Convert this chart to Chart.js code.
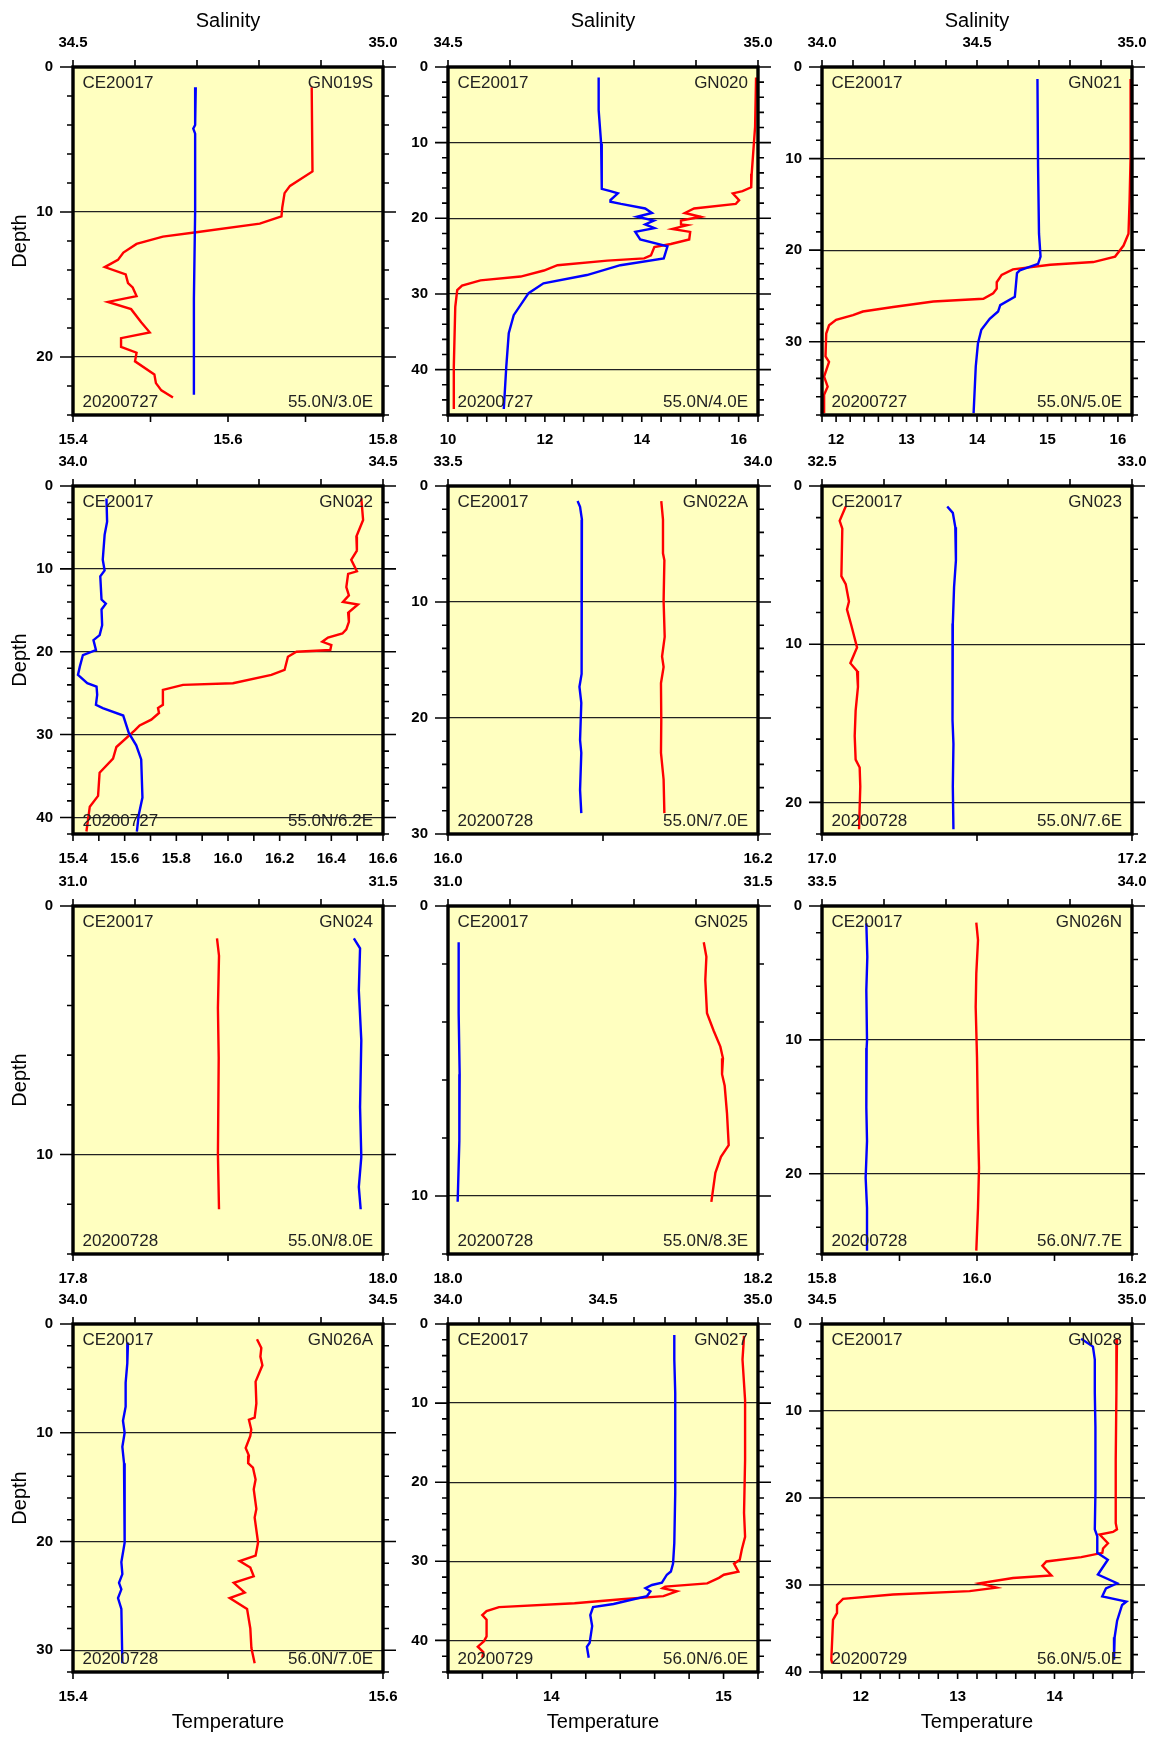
<!DOCTYPE html>
<html>
<head>
<meta charset="utf-8">
<script src="https://cdn.jsdelivr.net/npm/chart.js@4.4.1/dist/chart.umd.min.js"></script>
<style>
  body { margin: 0; background: #fff; }
  #wrap { position: relative; width: 1154px; height: 1738px; }
  #wrap canvas { position: absolute; }
</style>
</head>
<body>
<div id="wrap"></div>
<script>
// station info
const cruise = 'CE20017';
const stations = ['GN019S', 'GN020', 'GN021', 'GN022', 'GN022A', 'GN023',
                  'GN024', 'GN025', 'GN026N', 'GN026A', 'GN027', 'GN028'];
const dates = ['20200727', '20200727', '20200727', '20200727', '20200728', '20200728',
               '20200728', '20200728', '20200728', '20200728', '20200729', '20200729'];
const positions = ['55.0N/3.0E', '55.0N/4.0E', '55.0N/5.0E', '55.0N/6.2E', '55.0N/7.0E', '55.0N/7.6E',
                   '55.0N/8.0E', '55.0N/8.3E', '56.0N/7.7E', '56.0N/7.0E', '56.0N/6.0E', '56.0N/5.0E'];

// axis ranges / tick labels
const tempMin = [15.4, 10, 11.8, 15.4, 16.0, 17.0, 17.8, 18.0, 15.8, 15.4, 13.4, 11.6];
const tempMax = [15.8, 16.4, 16.2, 16.6, 16.2, 17.2, 18.0, 18.2, 16.2, 15.6, 15.2, 14.8];
const tempTick = [0.1, 0.4, 0.2, 0.1, 0.1, 0.1, 0.1, 0.1, 0.1, 0.1, 0.2, 0.2];
const tempLabel = [0.2, 2, 1, 0.2, 0.2, 0.2, 0.2, 0.2, 0.2, 0.2, 1, 1];
const salMin = [34.5, 34.5, 34.0, 34.0, 33.5, 32.5, 31.0, 31.0, 33.5, 34.0, 34.0, 34.5];
const salMax = [35.0, 35.0, 35.0, 34.5, 34.0, 33.0, 31.5, 31.5, 34.0, 34.5, 35.0, 35.0];
const depthMax = [24, 46, 38, 42, 30, 22, 14, 12, 26, 32, 44, 40];

// GN019S
const gn019sTD = [1.4, 7.2, 8.2, 8.7, 9.7, 10.3, 10.8, 11.4, 11.7, 12.2, 12.8, 13.3, 13.8, 14.3, 14.9, 15.2, 15.8, 16.2, 16.7, 17.6, 18.3, 18.7, 19.3, 19.7, 20.3, 21.2, 21.8, 22.3, 22.8];
const gn019sT = [15.708, 15.709, 15.680, 15.673, 15.670, 15.669, 15.641, 15.559, 15.516, 15.482, 15.465, 15.458, 15.441, 15.468, 15.471, 15.477, 15.482, 15.445, 15.475, 15.488, 15.499, 15.462, 15.462, 15.482, 15.480, 15.505, 15.507, 15.514, 15.529];
const gn019sSD = [1.4, 4.0, 4.25, 4.6, 10, 16, 22.6];
const gn019sS = [34.698, 34.697, 34.694, 34.697, 34.697, 34.695, 34.695];

// GN020
const gn020TD = [1.4, 7.9, 14.1, 15.9, 16.4, 16.7, 17.6, 18.1, 18.7, 19.3, 19.8, 20.3, 20.8, 20.9, 21.4, 21.8, 22.8, 23.4, 23.8, 24.9, 25.3, 25.6, 26.2, 26.9, 27.7, 28.2, 28.9, 29.5, 31.7, 39.6, 45.2];
const gn020T = [16.36, 16.34, 16.27, 16.26, 16.08, 15.88, 16.01, 15.94, 15.08, 14.89, 15.22, 14.81, 14.81, 14.94, 14.63, 15.00, 14.98, 14.60, 14.26, 14.19, 14.05, 13.29, 12.26, 11.98, 11.50, 10.67, 10.29, 10.19, 10.15, 10.12, 10.12];
const gn020SD = [1.4, 5.7, 10.1, 14.5, 16.1, 16.4, 16.7, 17.6, 17.8, 18.1, 18.7, 19.3, 19.8, 20.3, 20.8, 21.3, 21.8, 22.8, 23.7, 25.3, 26.2, 27.5, 28.6, 29.9, 32.8, 35.2, 39.6, 45.2];
const gn020S = [34.743, 34.743, 34.747, 34.748, 34.748, 34.762, 34.774, 34.762, 34.762, 34.779, 34.818, 34.829, 34.805, 34.832, 34.818, 34.833, 34.802, 34.810, 34.854, 34.848, 34.778, 34.724, 34.654, 34.630, 34.606, 34.598, 34.594, 34.590];

// GN021
const gn021TD = [1.3, 7.3, 9.8, 14.5, 18.2, 19.5, 20.7, 21.3, 21.6, 22.1, 22.7, 23.5, 24.2, 24.7, 25.3, 25.6, 26.2, 26.7, 27.1, 27.6, 28.2, 29.1, 31.6, 32.2, 33.8, 34.9, 35.8, 37.8];
const gn021T = [16.185, 16.175, 16.185, 16.166, 16.150, 16.080, 15.960, 15.650, 15.040, 14.510, 14.350, 14.280, 14.280, 14.230, 14.090, 13.380, 12.810, 12.380, 12.240, 12.000, 11.900, 11.860, 11.850, 11.900, 11.830, 11.880, 11.830, 11.830];
const gn021SD = [1.3, 10.9, 18.2, 20.7, 21.5, 22.2, 22.5, 24.0, 25.1, 26.0, 26.7, 27.5, 28.7, 30.2, 32.7, 37.8];
const gn021S = [34.695, 34.697, 34.700, 34.705, 34.697, 34.638, 34.629, 34.625, 34.622, 34.575, 34.568, 34.541, 34.514, 34.503, 34.496, 34.489];

// GN022
const gn022TD = [1.5, 4.1, 6.1, 7.8, 8.9, 10.3, 10.6, 12.2, 13.2, 14.0, 14.3, 15.3, 16.4, 17.3, 17.8, 18.3, 18.8, 19.2, 19.8, 20.0, 20.6, 22.2, 22.8, 23.8, 24.0, 24.6, 26.4, 26.8, 27.4, 28.2, 28.9, 29.5, 31.5, 32.9, 34.6, 37.4, 38.7, 40.3, 41.7];
const gn022T = [16.516, 16.523, 16.497, 16.499, 16.477, 16.499, 16.465, 16.458, 16.468, 16.445, 16.503, 16.465, 16.468, 16.458, 16.443, 16.387, 16.365, 16.400, 16.396, 16.265, 16.232, 16.219, 16.168, 16.019, 15.826, 15.748, 15.748, 15.729, 15.733, 15.703, 15.658, 15.639, 15.568, 15.555, 15.503, 15.497, 15.465, 15.458, 15.452];
const gn022SD = [1.5, 4.3, 5.9, 8.9, 10.2, 10.9, 13.7, 14.2, 14.9, 16.8, 18.0, 18.6, 19.8, 20.4, 21.8, 22.8, 23.8, 24.2, 25.2, 26.4, 26.8, 27.7, 29.8, 31.3, 33.0, 37.6, 39.7, 41.7];
const gn022S = [34.054, 34.055, 34.051, 34.048, 34.051, 34.044, 34.046, 34.053, 34.046, 34.047, 34.043, 34.033, 34.037, 34.016, 34.011, 34.008, 34.023, 34.038, 34.039, 34.037, 34.048, 34.081, 34.090, 34.102, 34.110, 34.112, 34.106, 34.103];

// GN022A
const gn022aTD = [1.3, 2.9, 5.8, 6.4, 9.9, 13.0, 14.7, 15.6, 17.0, 20.2, 23.0, 25.3, 28.2];
const gn022aT = [16.1376, 16.1387, 16.1387, 16.1396, 16.1391, 16.1398, 16.1381, 16.1391, 16.1374, 16.1376, 16.1374, 16.1391, 16.1396];
const gn022aSD = [1.3, 1.8, 2.9, 5.8, 10.4, 13.9, 16.2, 17.3, 18.7, 21.9, 23.0, 26.2, 28.2];
const gn022aS = [33.709, 33.713, 33.716, 33.715, 33.716, 33.715, 33.716, 33.712, 33.715, 33.713, 33.715, 33.713, 33.715];

// GN023
const gn023TD = [1.3, 2.2, 2.7, 5.7, 6.2, 7.3, 7.8, 8.8, 10.2, 11.2, 11.7, 12.7, 14.2, 15.8, 17.3, 17.8, 19.0, 21.7];
const gn023T = [17.0153, 17.0114, 17.0131, 17.0125, 17.0153, 17.0174, 17.0161, 17.0189, 17.0226, 17.0183, 17.0226, 17.0232, 17.0217, 17.0211, 17.0217, 17.0243, 17.0247, 17.0239];
const gn023SD = [1.3, 1.7, 2.6, 4.7, 6.4, 8.7, 12.7, 14.8, 16.3, 19.0, 21.7];
const gn023S = [32.702, 32.711, 32.715, 32.716, 32.713, 32.711, 32.711, 32.710, 32.712, 32.711, 32.712];

// GN024
const gn024TD = [1.3, 2.0, 4.1, 6.1, 10.0, 12.2];
const gn024T = [17.8929, 17.8942, 17.8935, 17.8940, 17.8935, 17.8942];
const gn024SD = [1.3, 1.7, 3.4, 5.4, 8.1, 10.1, 11.3, 12.2];
const gn024S = [31.453, 31.463, 31.461, 31.465, 31.463, 31.465, 31.461, 31.464];

// GN025
const gn025TD = [1.25, 1.75, 2.55, 3.7, 4.3, 4.85, 5.25, 5.8, 6.2, 7.15, 8.25, 8.65, 9.2, 10.2];
const gn025T = [18.1650, 18.1667, 18.1660, 18.1671, 18.1714, 18.1757, 18.1774, 18.1768, 18.1785, 18.1800, 18.1811, 18.1761, 18.1725, 18.1699];
const gn025SD = [1.25, 3.7, 5.8, 8.1, 10.2];
const gn025S = [31.0172, 31.0172, 31.0188, 31.0183, 31.0156];

// GN026N
const gn026nTD = [1.25, 2.55, 5.05, 7.55, 11.3, 16.3, 19.55, 22.55, 25.75];
const gn026nT = [15.9991, 16.0013, 15.9991, 15.9983, 16.0000, 16.0013, 16.0026, 16.0013, 15.9991];
const gn026nSD = [1.3, 3.8, 6.3, 10.05, 10.6, 15.05, 17.55, 20.3, 22.55, 25.75];
const gn026nS = [33.5715, 33.5731, 33.5715, 33.5726, 33.5720, 33.5715, 33.5726, 33.5704, 33.5726, 33.5726];

// GN026A
const gn026aTD = [1.4, 2.2, 3.0, 3.8, 5.3, 7.3, 8.6, 8.8, 9.7, 10.3, 11.4, 12.1, 12.8, 13.2, 14.3, 15.2, 17.0, 17.8, 20.1, 21.3, 21.8, 22.4, 23.2, 23.8, 24.7, 25.2, 26.2, 28.0, 29.8, 31.2];
const gn026aT = [15.5187, 15.5215, 15.5209, 15.5222, 15.5178, 15.5183, 15.5172, 15.5135, 15.5150, 15.5144, 15.5114, 15.5135, 15.5130, 15.5161, 15.5178, 15.5166, 15.5183, 15.5172, 15.5194, 15.5178, 15.5075, 15.5144, 15.5166, 15.5037, 15.5108, 15.5011, 15.5123, 15.5144, 15.5151, 15.5172];
const gn026aSD = [1.7, 3.6, 5.4, 7.6, 8.9, 10.0, 11.3, 12.8, 20.1, 21.9, 23.0, 23.8, 24.4, 25.2, 26.2, 31.2];
const gn026aS = [34.0887, 34.0876, 34.0849, 34.0849, 34.0806, 34.0833, 34.0796, 34.0823, 34.0833, 34.0780, 34.0796, 34.0742, 34.0780, 34.0726, 34.0780, 34.0796];

// GN027
const gn027TD = [1.5, 4.5, 9.6, 17.2, 23.9, 26.9, 28.5, 29.8, 30.3, 31.3, 31.7, 32.1, 32.8, 33.2, 33.4, 33.8, 34.4, 34.8, 35.3, 35.8, 36.3, 36.8, 37.4, 39.5, 40.1, 40.8, 41.5, 42.2];
const gn027T = [15.119, 15.110, 15.125, 15.125, 15.119, 15.125, 15.106, 15.094, 15.061, 15.086, 15.002, 14.973, 14.905, 14.661, 14.646, 14.729, 14.651, 14.408, 14.135, 13.696, 13.624, 13.599, 13.624, 13.624, 13.609, 13.573, 13.605, 13.599];
const gn027SD = [1.4, 4.5, 8.7, 21.4, 27.7, 30.3, 31.3, 31.7, 32.7, 33.0, 33.4, 33.8, 34.4, 34.9, 35.4, 35.8, 36.8, 38.2, 40.3, 40.8, 42.2];
const gn027S = [34.730, 34.730, 34.733, 34.733, 34.730, 34.726, 34.719, 34.706, 34.690, 34.658, 34.637, 34.653, 34.642, 34.588, 34.534, 34.468, 34.459, 34.465, 34.457, 34.448, 34.454];

// GN028
const gn028TD = [1.7, 7.9, 15.6, 22.9, 23.6, 23.9, 24.2, 25.2, 25.8, 26.3, 26.8, 27.3, 27.8, 28.9, 29.2, 29.8, 30.3, 30.7, 31.1, 31.6, 32.3, 33.2, 34.0, 38.6, 39.0];
const gn028T = [14.645, 14.639, 14.632, 14.632, 14.645, 14.604, 14.466, 14.552, 14.501, 14.494, 14.277, 13.916, 13.875, 13.968, 13.572, 13.228, 13.400, 13.124, 12.333, 11.817, 11.755, 11.755, 11.714, 11.696, 11.707];
const gn028SD = [1.7, 2.6, 4.1, 7.9, 11.8, 19.4, 23.6, 24.4, 26.3, 27.1, 28.8, 29.8, 30.4, 31.3, 31.9, 32.3, 34.1, 36.0, 38.6];
const gn028S = [34.918, 34.937, 34.940, 34.940, 34.941, 34.941, 34.940, 34.944, 34.944, 34.961, 34.945, 34.976, 34.958, 34.952, 34.991, 34.984, 34.976, 34.972, 34.971];

const profiles = [
  [gn019sTD, gn019sT, gn019sSD, gn019sS],
  [gn020TD, gn020T, gn020SD, gn020S],
  [gn021TD, gn021T, gn021SD, gn021S],
  [gn022TD, gn022T, gn022SD, gn022S],
  [gn022aTD, gn022aT, gn022aSD, gn022aS],
  [gn023TD, gn023T, gn023SD, gn023S],
  [gn024TD, gn024T, gn024SD, gn024S],
  [gn025TD, gn025T, gn025SD, gn025S],
  [gn026nTD, gn026nT, gn026nSD, gn026nS],
  [gn026aTD, gn026aT, gn026aSD, gn026aS],
  [gn027TD, gn027T, gn027SD, gn027S],
  [gn028TD, gn028T, gn028SD, gn028S]
];

// layout of the 4x3 grid (plot area corners)
const colLeft = [73, 448, 822];
const rowTop = [67, 486, 906, 1324];
const plotW = 310, plotH = 348;
const padL = 73, padT = 67, padR = 24, padB = 64;
const FONT = '"Liberation Sans", Arial, Helvetica, sans-serif';

function makeTicks(min, max, step) {
  const n = Math.round((max - min) / step);
  const out = [];
  for (let i = 0; i <= n; i++) out.push({ value: +(min + i * step).toFixed(4) });
  return out;
}
function onStep(v, step) {
  const q = v / step;
  return Math.abs(q - Math.round(q)) < 1e-6;
}

const wrap = document.getElementById('wrap');

stations.forEach((name, i) => {
  const col = i % 3, row = Math.floor(i / 3);
  const cv = document.createElement('canvas');
  const w = padL + plotW + padR, h = padT + plotH + padB;
  cv.width = w; cv.height = h;
  cv.style.left = (colLeft[col] - padL) + 'px';
  cv.style.top = (rowTop[row] - padT) + 'px';
  cv.style.width = w + 'px'; cv.style.height = h + 'px';
  wrap.appendChild(cv);

  const [td, tv, sd, sv] = profiles[i];
  const tempPts = td.map((d, k) => ({ x: tv[k], y: d }));
  const salPts = sd.map((d, k) => ({ x: sv[k], y: d }));
  const tLab = tempLabel[i];
  const tDec = tLab >= 1 ? 0 : 1;

  const panel = {
    id: 'panel' + i,
    beforeDraw(chart) {
      const { ctx, chartArea: a } = chart;
      ctx.save();
      ctx.fillStyle = '#ffffc0';
      ctx.fillRect(a.left, a.top, a.right - a.left, a.bottom - a.top);
      ctx.restore();
    },
    afterDraw(chart) {
      const { ctx, chartArea: a, scales } = chart;
      ctx.save();
      ctx.strokeStyle = '#000';
      ctx.lineWidth = 1.6;
      ctx.beginPath();
      scales.x.ticks.forEach(t => {
        const p = scales.x.getPixelForValue(t.value);
        ctx.moveTo(p, a.bottom); ctx.lineTo(p, a.bottom + 7);
      });
      scales.x2.ticks.forEach(t => {
        const p = scales.x2.getPixelForValue(t.value);
        ctx.moveTo(p, a.top); ctx.lineTo(p, a.top - 7);
      });
      scales.y.ticks.forEach(t => {
        const p = scales.y.getPixelForValue(t.value);
        const len = onStep(t.value, 10) ? 13 : 6;
        ctx.moveTo(a.left, p); ctx.lineTo(a.left - len, p);
        ctx.moveTo(a.right, p); ctx.lineTo(a.right + len, p);
      });
      ctx.stroke();
      ctx.lineWidth = 3.4;
      ctx.strokeRect(a.left, a.top, a.right - a.left, a.bottom - a.top);

      ctx.fillStyle = '#222';
      ctx.font = '17px ' + FONT;
      ctx.textBaseline = 'alphabetic';
      ctx.textAlign = 'left';
      ctx.fillText(cruise, a.left + 9.5, a.top + 20.6);
      ctx.fillText(dates[i], a.left + 9.5, a.bottom - 7.7);
      ctx.textAlign = 'right';
      ctx.fillText(name, a.right - 10, a.top + 20.6);
      ctx.fillText(positions[i], a.right - 10, a.bottom - 7.7);
      ctx.restore();
    }
  };

  new Chart(cv, {
    type: 'scatter',
    data: {
      datasets: [
        { label: 'Salinity', data: salPts, xAxisID: 'x2', yAxisID: 'y', showLine: true,
          borderColor: '#0000ff', borderWidth: 2.4, pointRadius: 0, tension: 0, fill: false },
        { label: 'Temperature', data: tempPts, xAxisID: 'x', yAxisID: 'y', showLine: true,
          borderColor: '#ff0000', borderWidth: 2.4, pointRadius: 0, tension: 0, fill: false }
      ]
    },
    options: {
      responsive: false,
      animation: false,
      events: [],
      layout: { padding: 0 },
      plugins: { legend: { display: false }, tooltip: { enabled: false } },
      scales: {
        x: {
          type: 'linear', position: 'bottom', min: tempMin[i], max: tempMax[i],
          afterBuildTicks: s => { s.ticks = makeTicks(tempMin[i], tempMax[i], tempTick[i]); },
          afterFit: s => { s.height = padB; },
          grid: { display: false }, border: { display: false },
          ticks: { autoSkip: false, maxRotation: 0, padding: 8, color: '#000',
                   font: { family: FONT, size: 15, weight: 'bold' },
                   callback: v => onStep(v, tLab) ? v.toFixed(tDec) : '' },
          title: { display: row === 3, text: 'Temperature', color: '#000',
                   font: { family: FONT, size: 20 }, padding: { top: 0, bottom: 2 } }
        },
        x2: {
          type: 'linear', position: 'top', min: salMin[i], max: salMax[i],
          afterBuildTicks: s => { s.ticks = makeTicks(salMin[i], salMax[i], 0.1); },
          afterFit: s => { s.height = padT; },
          grid: { display: false }, border: { display: false },
          ticks: { autoSkip: false, maxRotation: 0, padding: 7, color: '#000',
                   font: { family: FONT, size: 15, weight: 'bold' },
                   callback: v => onStep(v, 0.5) ? v.toFixed(1) : '' },
          title: { display: row === 0, text: 'Salinity', color: '#000',
                   font: { family: FONT, size: 20 }, padding: { top: 9, bottom: 0 } }
        },
        y: {
          type: 'linear', position: 'left', reverse: true, min: 0, max: depthMax[i],
          afterBuildTicks: s => { s.ticks = makeTicks(0, depthMax[i], 2); },
          afterFit: s => { s.width = padL; },
          grid: { drawTicks: false, lineWidth: 1.2,
                  color: c => onStep(c.tick.value, 10) ? '#222' : 'rgba(0,0,0,0)' },
          border: { display: false },
          ticks: { autoSkip: false, padding: 20, color: '#000',
                   font: { family: FONT, size: 15, weight: 'bold' },
                   callback: v => onStep(v, 10) ? String(v) : '' },
          title: { display: col === 0, text: 'Depth', color: '#000',
                   font: { family: FONT, size: 20 }, padding: { top: 8, bottom: 0 } }
        },
        yr: {
          type: 'linear', position: 'right', min: 0, max: depthMax[i],
          afterFit: s => { s.width = padR; },
          grid: { display: false }, border: { display: false },
          ticks: { display: false }
        }
      }
    },
    plugins: [panel]
  });
});
</script>
</body>
</html>
